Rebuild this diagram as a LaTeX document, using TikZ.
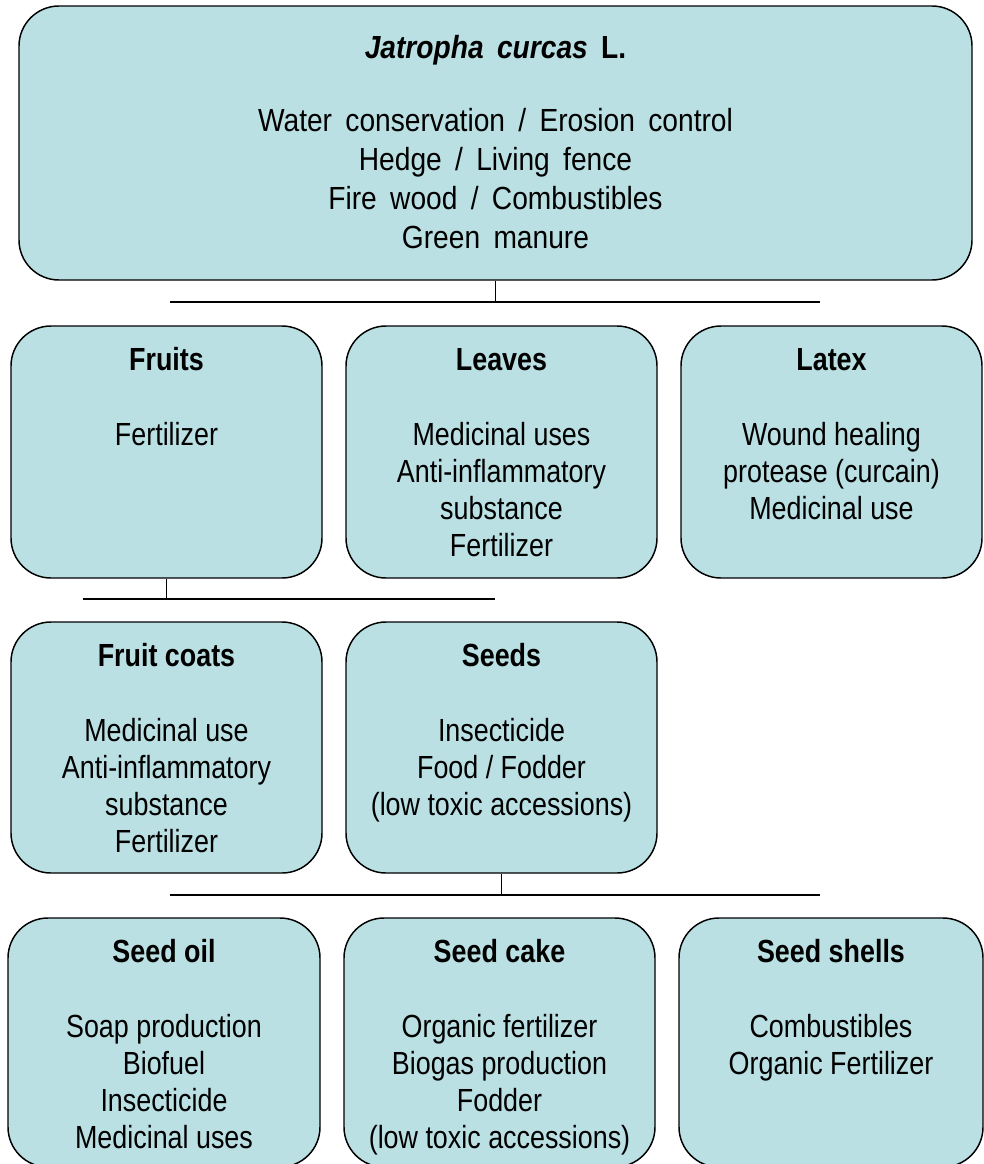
\documentclass[tikz,border=0pt]{standalone}
\usepackage{fontspec}
\setmainfont{Liberation Sans}[FakeStretch=0.84]
\newfontfamily\topfont{Liberation Sans}[FakeStretch=0.88]
\newcommand\topwide{\topfont\spaceskip=10pt\relax}
\usepackage{tikz}
\usetikzlibrary{calc}
\usepackage{xcolor}
\definecolor{boxfill}{HTML}{BAE0E3}

\begin{document}
\begin{tikzpicture}[x=0.75pt, y=-0.75pt,
    part/.style={draw=black, line width=1.1pt, fill=boxfill, rounded corners=30pt, inner sep=0pt},
    head/.style={anchor=base, font=\fontsize{24}{28}\selectfont\bfseries},
    uses/.style={anchor=north, align=center, inner sep=0pt, font=\fontsize{24}{27.75}\selectfont},
    link/.style={line width=1.1pt}]
    \useasboundingbox (0,0) rectangle (984,1164);
    \clip (0,0) rectangle (984,1164);

    % plant
    \node[part, minimum width=714.75pt, minimum height=205.5pt] (plant) at (495.5,143) {};
    \node[head, font=\fontsize{24}{28}\selectfont\topwide\bfseries] (h-plant) at ([yshift=-40.1pt]plant.north) {\textit{Jatropha curcas} L.};
    \node[uses, font=\fontsize{24}{29.25}\selectfont\topwide] (u-plant) at ([yshift=-76.9pt]plant.north)
        {Water conservation / Erosion control\\Hedge / Living fence\\Fire wood / Combustibles\\Green manure};

    % second row
    \node[part, minimum width=233.25pt, minimum height=189pt] (fruits) at (166.5,452) {};
    \node[part, minimum width=233.25pt, minimum height=189pt] (leaves) at (501.5,452) {};
    \node[part, minimum width=225.75pt, minimum height=189pt] (latex) at (831.5,452) {};
    \node[head] (h-fruits) at ([yshift=-33.75pt]fruits.north) {Fruits};
    \node[head] (h-leaves) at ([yshift=-33.75pt]leaves.north) {Leaves};
    \node[head] (h-latex) at ([yshift=-33.75pt]latex.north) {Latex};
    \node[uses] (u-fruits) at ([yshift=-72.4pt]fruits.north) {Fertilizer};
    \node[uses] (u-leaves) at ([yshift=-72.4pt]leaves.north) {Medicinal uses\\Anti-inflammatory\\substance\\Fertilizer};
    \node[uses] (u-latex) at ([yshift=-72.4pt]latex.north) {Wound healing\\protease (curcain)\\Medicinal use};

    % third row
    \node[part, minimum width=233.25pt, minimum height=188.25pt] (coats) at (166.5,747.5) {};
    \node[part, minimum width=233.25pt, minimum height=188.25pt] (seeds) at (501.5,747.5) {};
    \node[head] (h-coats) at ([yshift=-33.75pt]coats.north) {Fruit coats};
    \node[head] (h-seeds) at ([yshift=-33.75pt]seeds.north) {Seeds};
    \node[uses] (u-coats) at ([yshift=-72.4pt]coats.north) {Medicinal use\\Anti-inflammatory\\substance\\Fertilizer};
    \node[uses] (u-seeds) at ([yshift=-72.4pt]seeds.north) {Insecticide\\Food / Fodder\\(low toxic accessions)};

    % fourth row
    \node[part, minimum width=234pt, minimum height=186.75pt] (oil) at (164,1042.5) {};
    \node[part, minimum width=233.25pt, minimum height=186.75pt] (cake) at (499.5,1042.5) {};
    \node[part, minimum width=228pt, minimum height=186.75pt] (shells) at (831,1042.5) {};
    \node[head] (h-oil) at ([yshift=-33.75pt]oil.north) {Seed oil};
    \node[head] (h-cake) at ([yshift=-33.75pt]cake.north) {Seed cake};
    \node[head] (h-shells) at ([yshift=-33.75pt]shells.north) {Seed shells};
    \node[uses] (u-oil) at ([yshift=-72.4pt]oil.north) {Soap production\\Biofuel\\Insecticide\\Medicinal uses};
    \node[uses] (u-cake) at ([yshift=-72.4pt]cake.north) {Organic fertilizer\\Biogas production\\Fodder\\(low toxic accessions)};
    \node[uses] (u-shells) at ([yshift=-72.4pt]shells.north) {Combustibles\\Organic Fertilizer};

    % connectors
    \coordinate (bar1-l) at (170,302);
    \coordinate (bar1-r) at (820,302);
    \coordinate (bar2-l) at (83,599);
    \coordinate (bar2-r) at (495,599);
    \coordinate (bar3-l) at (170,895);
    \coordinate (bar3-r) at (820,895);

    \draw[link] (bar1-l) -- (bar1-r);
    \draw[link] (plant.south) -- (plant.south |- bar1-l);
    \draw[link] (bar2-l) -- (bar2-r);
    \draw[link] (fruits.south) -- (fruits.south |- bar2-l);
    \draw[link] (bar3-l) -- (bar3-r);
    \draw[link] (seeds.south) -- (seeds.south |- bar3-l);
\end{tikzpicture}
\end{document}
